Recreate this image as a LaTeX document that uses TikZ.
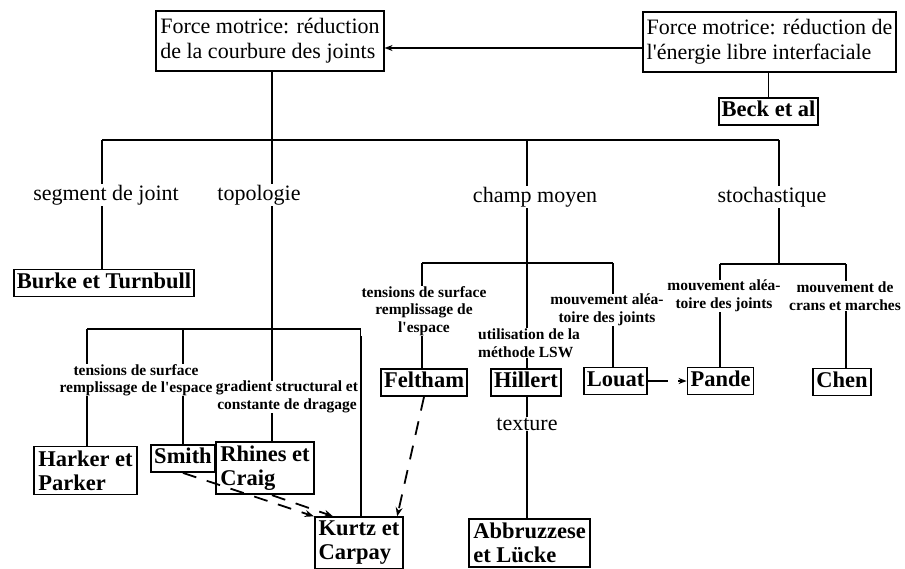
\documentclass[tikz,border=0pt]{standalone}
\usepackage{fontspec}
\setmainfont{Liberation Serif}
\usetikzlibrary{arrows.meta,backgrounds,calc}
\newcommand\myTop{\fontsize{22}{25}\selectfont}
\newcommand\myBox{\fontsize{22.5}{24}\selectfont\bfseries}
\newcommand\myCat{\fontsize{22}{25}\selectfont}
\newcommand\mySmall{\fontsize{15.5}{17.5}\selectfont\bfseries}
\begin{document}
\begin{tikzpicture}[x=1pt,y=-1pt,
  topbox/.style={draw,line width=1.8pt,align=left,inner xsep=4pt,inner ysep=7.5pt,font=\myTop},
  bbox/.style={draw,line width=1.8pt,inner xsep=3pt,inner ysep=3.5pt,text height=15pt,text depth=5pt,font=\myBox},
  bbox2/.style={draw,line width=1.8pt,align=left,inner xsep=4pt,inner ysep=4pt,font=\myBox},
  cat/.style={fill=white,inner sep=1pt,font=\myCat},
  small/.style={fill=white,inner sep=0.5pt,align=center,font=\mySmall},
  conn/.style={line width=1.8pt},
  dconn/.style={line width=1.8pt,dash pattern=on 14pt off 11pt,-{Stealth[length=9pt,width=7pt]}},
]
\useasboundingbox (0,0) rectangle (905,568);

% nodes
\node[topbox] (tl) at (270,41) {Force motrice: réduction\\de la courbure des joints};
\node[topbox] (tr) at (769.5,42) {Force motrice: réduction de\\l\textquotesingle énergie libre interfaciale};
\node[bbox] (beck) at (768.5,111.5) {Beck et al};
\node[cat] (lseg) at (106,195) {segment de joint};
\node[cat] (ltop) at (259,195) {topologie};
\node[cat] (lcm) at (535,197) {champ moyen};
\node[cat] (lsto) at (772,197) {stochastique};
\node[bbox] (burke) at (104,283) {Burke et Turnbull};
\node[small] (lts1) at (136,380) {tensions de surface\\remplissage de l\textquotesingle espace};
\node[small] (lgr) at (287,397) {gradient structural et\\constante de dragage};
\node[bbox2] (harker) at (85.5,470.5) {Harker et\\Parker};
\node[bbox] (smith) at (183,458.5) {Smith};
\node[bbox2] (rhines) at (265,468) {Rhines et\\Craig};
\node[bbox2] (kurtz) at (359,543) {Kurtz et\\Carpay};
\node[small] (lts2) at (424,311) {tensions de surface\\remplissage de\\l\textquotesingle espace};
\node[small,align=left] (lutil) at (529,343) {utilisation de la\\méthode LSW};
\node[small] (lmv1) at (607,310) {mouvement aléa-\\toire des joints};
\node[bbox] (feltham) at (424,382.5) {Feltham};
\node[bbox] (hillert) at (526,382.5) {Hillert};
\node[bbox] (louat) at (615.5,381) {Louat};
\node[cat] (ltex) at (527,424) {texture};
\node[bbox2] (abb) at (529.5,543) {Abbruzzese\\et Lücke};
\node[small] (lmv2) at (724,296) {mouvement aléa-\\toire des joints};
\node[small] (lcr) at (845,296) {mouvement de\\crans et marches};
\node[bbox] (pande) at (720.5,381) {Pande};
\node[bbox] (chen) at (842,382) {Chen};

% junctions
\coordinate (bA) at (102,140);
\coordinate (bB) at (272,140);
\coordinate (bC) at (527,140);
\coordinate (bD) at (779,140);
\coordinate (tA) at (87,329);
\coordinate (tB) at (183,329);
\coordinate (tC) at (272,329);
\coordinate (tD) at (361,329);
\coordinate (cA) at (422,263);
\coordinate (cB) at (527,263);
\coordinate (cC) at (613,263);
\coordinate (sA) at (720,264);
\coordinate (sB) at (779,264);
\coordinate (sC) at (846,264);

\begin{scope}[on background layer]
\fill[white] (0,0) rectangle (905,568);
\draw[conn] (tl.south -| bB) -- (bB);
\draw[conn] (bA) -- (bD);
\draw[conn] (bA) -- (burke.north -| bA);
\draw[conn] (bB) -- (tC);
\draw[conn] (tA) -- (tD);
\draw[conn] (tA) -- (harker.north -| tA);
\draw[conn] (tB) -- (smith.north -| tB);
\draw[conn] (tC) -- (rhines.north -| tC);
\draw[conn] (tD) -- (kurtz.north -| tD);
\draw[conn] (bC) -- (cB);
\draw[conn] (cA) -- (cC);
\draw[conn] (cA) -- (feltham.north -| cA);
\draw[conn] (cB) -- (hillert.north -| cB);
\draw[conn] (cC) -- (louat.north -| cC);
\draw[conn] (hillert.south -| cB) -- (abb.north -| cB);
\draw[conn] (bD) -- (sB);
\draw[conn] (sA) -- (sC);
\draw[conn] (sA) -- (pande.north -| sA);
\draw[conn] (sC) -- (chen.north -| sC);
\draw[conn] (tr.south -| beck.north) -- (beck.north);
\end{scope}

% arrows
\draw[conn,-{Stealth[length=8pt,width=6pt]}] ([yshift=-6pt]tr.west) -- ([yshift=-6pt]tr.west -| tl.east);
\draw[conn,dash pattern=on 20pt off 10pt,-{Stealth[length=8pt,width=6pt]}] (louat.east) -- (pande.west);
\draw[dconn] (smith.south) -- (kurtz.north west);
\draw[dconn] (rhines.south -| tC) -- ([xshift=-26pt]kurtz.north);
\draw[dconn] (feltham.south) -- ([xshift=-7pt]kurtz.north east);
\end{tikzpicture}
\end{document}
